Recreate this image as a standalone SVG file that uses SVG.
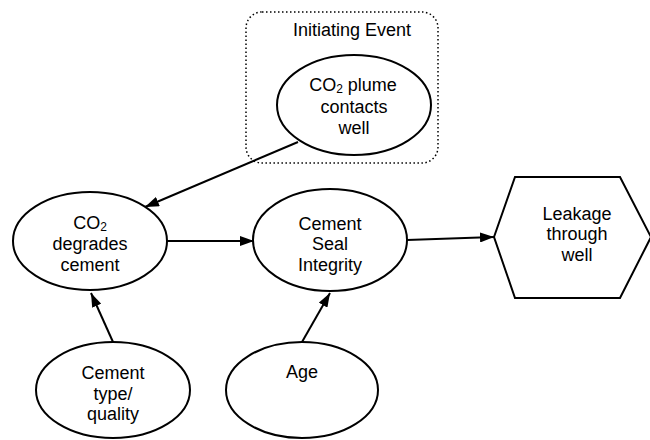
<svg xmlns="http://www.w3.org/2000/svg" width="650" height="440" viewBox="0 0 650 440">
<defs>
<style>
.n{fill:#fff;stroke:#000;stroke-width:2}
.t{font-family:"Liberation Sans",Arial,sans-serif;font-size:18px;fill:#000;text-anchor:middle}
.s{font-size:12px}
.c{stroke:#000;stroke-width:2;fill:none}
</style>
<marker id="ah" viewBox="0 0 14 10" refX="14" refY="5" markerWidth="14" markerHeight="10" markerUnits="userSpaceOnUse" orient="auto">
<path d="M0,0 L14,5 L0,10 Z" fill="#000"/>
</marker>
</defs>
<rect width="650" height="440" fill="#fff"/>
<g id="initiating-event">
<rect x="246" y="12" width="192" height="151" rx="16" ry="16" fill="none" stroke="#000" stroke-width="1.5" stroke-dasharray="1.5,2.5"/>
<text class="t" x="352" y="36">Initiating Event</text>
</g>
<g id="connectors">
<line class="c" x1="298" y1="142" x2="145" y2="207" marker-end="url(#ah)"/>
<line class="c" x1="167" y1="241" x2="254" y2="241" marker-end="url(#ah)"/>
<line class="c" x1="407" y1="240" x2="494" y2="237" marker-end="url(#ah)"/>
<line class="c" x1="113" y1="342" x2="91" y2="293" marker-end="url(#ah)"/>
<line class="c" x1="302" y1="342" x2="330" y2="293" marker-end="url(#ah)"/>
</g>
<g id="plume">
<ellipse class="n" cx="354" cy="105" rx="77" ry="50"/>
<text class="t" x="353" y="91">CO<tspan class="s" dy="2">2</tspan><tspan dy="-2"> plume</tspan></text>
<text class="t" x="354" y="113">contacts</text>
<text class="t" x="354" y="134">well</text>
</g>
<g id="degrades">
<ellipse class="n" cx="90" cy="241" rx="77" ry="49"/>
<text class="t" x="90" y="229">CO<tspan class="s" dy="2">2</tspan></text>
<text class="t" x="90" y="250">degrades</text>
<text class="t" x="90" y="271">cement</text>
</g>
<g id="seal">
<ellipse class="n" cx="330" cy="240" rx="77" ry="51"/>
<text class="t" x="330" y="230">Cement</text>
<text class="t" x="330" y="250">Seal</text>
<text class="t" x="330" y="271">Integrity</text>
</g>
<g id="leakage">
<polygon class="n" points="494,237 515,177 620,177 651,237 620,298 515,298"/>
<text class="t" x="577" y="220">Leakage</text>
<text class="t" x="577" y="240">through</text>
<text class="t" x="577" y="261">well</text>
</g>
<g id="cement-type">
<ellipse class="n" cx="113" cy="390" rx="77" ry="48"/>
<text class="t" x="113" y="379">Cement</text>
<text class="t" x="113" y="400">type/</text>
<text class="t" x="113" y="420">quality</text>
</g>
<g id="age">
<ellipse class="n" cx="302" cy="390" rx="76" ry="48"/>
<text class="t" x="302" y="378">Age</text>
</g>
</svg>
